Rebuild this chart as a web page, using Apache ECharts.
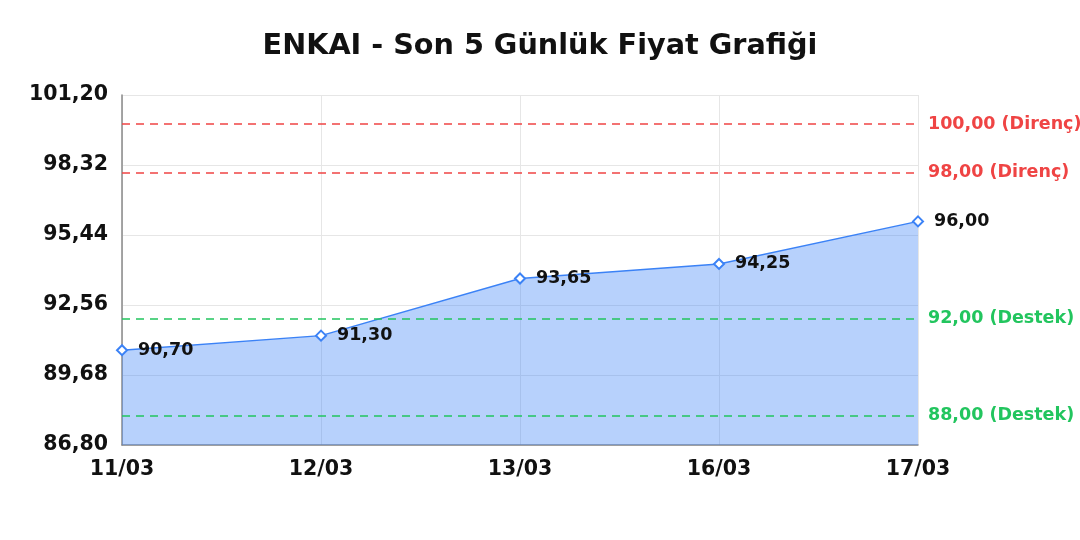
<!DOCTYPE html>
<html><head><meta charset="utf-8">
<script src="https://cdn.jsdelivr.net/npm/echarts@6/dist/echarts.min.js"></script>
<style>html,body{margin:0;padding:0;background:#fff}#c{width:1080px;height:540px}</style>
</head><body><div id="c"></div>
<script>
const categories = ['11/03', '12/03', '13/03', '16/03', '17/03'];
const prices = [90.70, 91.30, 93.65, 94.25, 96.00];
const resistance = [100, 98];
const support = [92, 88];
const yMin = 86.8, yMax = 101.2, yStep = 2.88;

const fmt = v => v.toFixed(2).replace('.', ',');
const red = '#ef4444', green = '#22c55e';
const font = 'DejaVu Sans';

const markData = [
  ...resistance.map(v => ({ yAxis: v, lineStyle: { color: red }, label: { color: red, formatter: fmt(v) + ' (Direnç)' } })),
  ...support.map(v => ({ yAxis: v, lineStyle: { color: green }, label: { color: green, formatter: fmt(v) + ' (Destek)' } }))
];

const chart = echarts.init(document.getElementById('c'));
chart.setOption({
  animation: false,
  backgroundColor: '#fff',
  title: {
    text: 'ENKAI - Son 5 Günlük Fiyat Grafiği',
    left: 'center', top: 27,
    textStyle: { fontFamily: font, fontWeight: 'bold', fontSize: 28.7, color: '#111' }
  },
  grid: { left: 122, right: 162, top: 95, bottom: 95 },
  xAxis: {
    type: 'category', data: categories, boundaryGap: false,
    axisLine: { lineStyle: { color: '#888', width: 1.5 } },
    axisTick: { show: false },
    axisLabel: { fontFamily: font, fontWeight: 'bold', fontSize: 20.5, color: '#111', margin: 14 },
    splitLine: { show: true, lineStyle: { color: '#e6e6e6' } }
  },
  yAxis: {
    type: 'value', min: yMin, max: yMax, interval: yStep,
    axisLine: { show: true, lineStyle: { color: '#888', width: 1.5 } },
    axisTick: { show: false },
    axisLabel: { fontFamily: font, fontWeight: 'bold', fontSize: 20.5, color: '#111', margin: 14, formatter: fmt },
    splitLine: { show: true, lineStyle: { color: '#e6e6e6' } }
  },
  series: [{
    type: 'line', data: prices,
    symbol: 'diamond', symbolSize: 10,
    itemStyle: { color: '#fff', borderColor: '#3b82f6', borderWidth: 2 },
    lineStyle: { color: '#3b82f6', width: 1.5 },
    areaStyle: { color: 'rgba(59,130,246,0.37)', opacity: 1 },
    label: {
      show: true, position: 'right', distance: 10,
      fontFamily: font, fontWeight: 'bold', fontSize: 17.5, color: '#111',
      formatter: p => fmt(p.value)
    },
    markLine: {
      silent: true, symbol: 'none',
      lineStyle: { type: [8, 6], width: 1.5 },
      label: { position: 'end', fontFamily: font, fontWeight: 'bold', fontSize: 17.5, distance: 10 },
      data: markData
    }
  }]
});
</script></body></html>
